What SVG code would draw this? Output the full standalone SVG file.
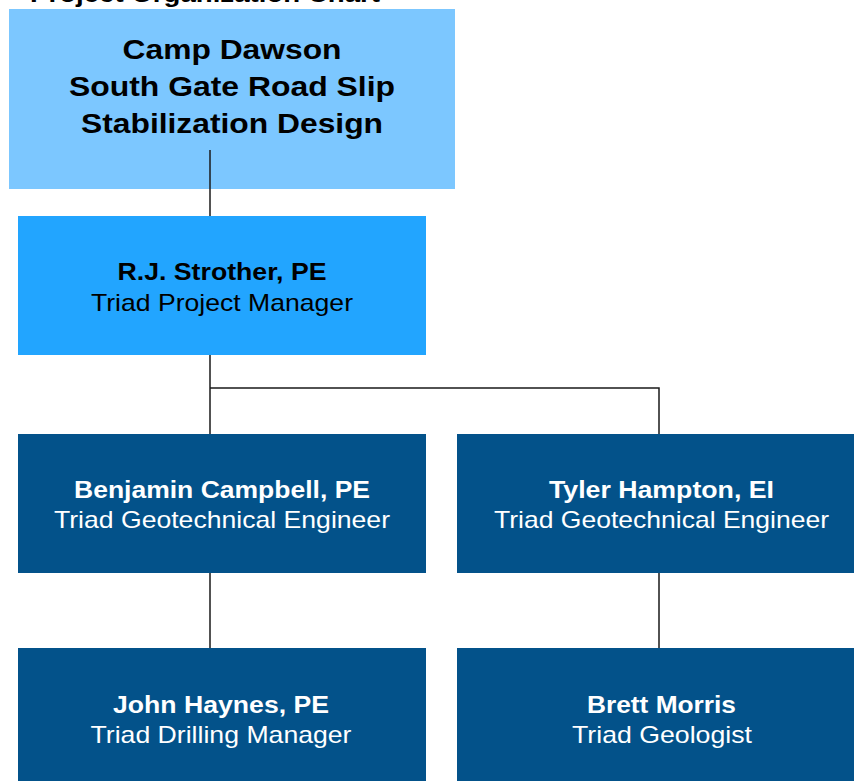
<svg xmlns="http://www.w3.org/2000/svg" width="854" height="781" viewBox="0 0 854 781">
<style>
text{font-family:"Liberation Sans",Arial,sans-serif;text-anchor:middle}
.b{font-weight:bold}
.t{font-size:28px;fill:#000}
.m{font-size:24px;fill:#000}
.w{font-size:24px;fill:#fff}
.ln{stroke:#1a1a1a;stroke-width:1.5;fill:none}
</style>
<rect width="854" height="781" fill="#fff"/>
<text x="30" y="2" class="b" style="font-size:24px;text-anchor:start" textLength="350" lengthAdjust="spacingAndGlyphs">Project Organization Chart</text>
<g id="n-camp">
<rect x="9" y="9" width="446" height="180" fill="#7CC7FF"/>
<text x="232" y="59" class="t b" textLength="219" lengthAdjust="spacingAndGlyphs">Camp Dawson</text>
<text x="232" y="96" class="t b" textLength="326" lengthAdjust="spacingAndGlyphs">South Gate Road Slip</text>
<text x="232" y="133" class="t b" textLength="302" lengthAdjust="spacingAndGlyphs">Stabilization Design</text>
</g>
<g id="connectors">
<path class="ln" d="M210 150V216"/>
<path class="ln" d="M210 355V434M210 388H659V434"/>
<path class="ln" d="M210 573V648M659 573V648"/>
</g>
<g id="n-strother">
<rect x="18" y="216" width="408" height="139" fill="#22A5FF"/>
<text x="222" y="280" class="m b" textLength="209" lengthAdjust="spacingAndGlyphs">R.J. Strother, PE</text>
<text x="222" y="311" class="m" textLength="262" lengthAdjust="spacingAndGlyphs">Triad Project Manager</text>
</g>
<g id="n-campbell">
<rect x="18" y="434" width="408" height="139" fill="#03528A"/>
<text x="222" y="498" class="w b" textLength="296" lengthAdjust="spacingAndGlyphs">Benjamin Campbell, PE</text>
<text x="222" y="528" class="w" textLength="336" lengthAdjust="spacingAndGlyphs">Triad Geotechnical Engineer</text>
</g>
<g id="n-hampton">
<rect x="457" y="434" width="397" height="139" fill="#03528A"/>
<text x="661.5" y="498" class="w b" textLength="225" lengthAdjust="spacingAndGlyphs">Tyler Hampton, EI</text>
<text x="661.5" y="528" class="w" textLength="335" lengthAdjust="spacingAndGlyphs">Triad Geotechnical Engineer</text>
</g>
<g id="n-haynes">
<rect x="18" y="648" width="408" height="133" fill="#03528A"/>
<text x="221" y="713" class="w b" textLength="216" lengthAdjust="spacingAndGlyphs">John Haynes, PE</text>
<text x="221" y="743" class="w" textLength="261" lengthAdjust="spacingAndGlyphs">Triad Drilling Manager</text>
</g>
<g id="n-morris">
<rect x="457" y="648" width="397" height="133" fill="#03528A"/>
<text x="661.5" y="713" class="w b" textLength="149" lengthAdjust="spacingAndGlyphs">Brett Morris</text>
<text x="662" y="743" class="w" textLength="180" lengthAdjust="spacingAndGlyphs">Triad Geologist</text>
</g>
</svg>
